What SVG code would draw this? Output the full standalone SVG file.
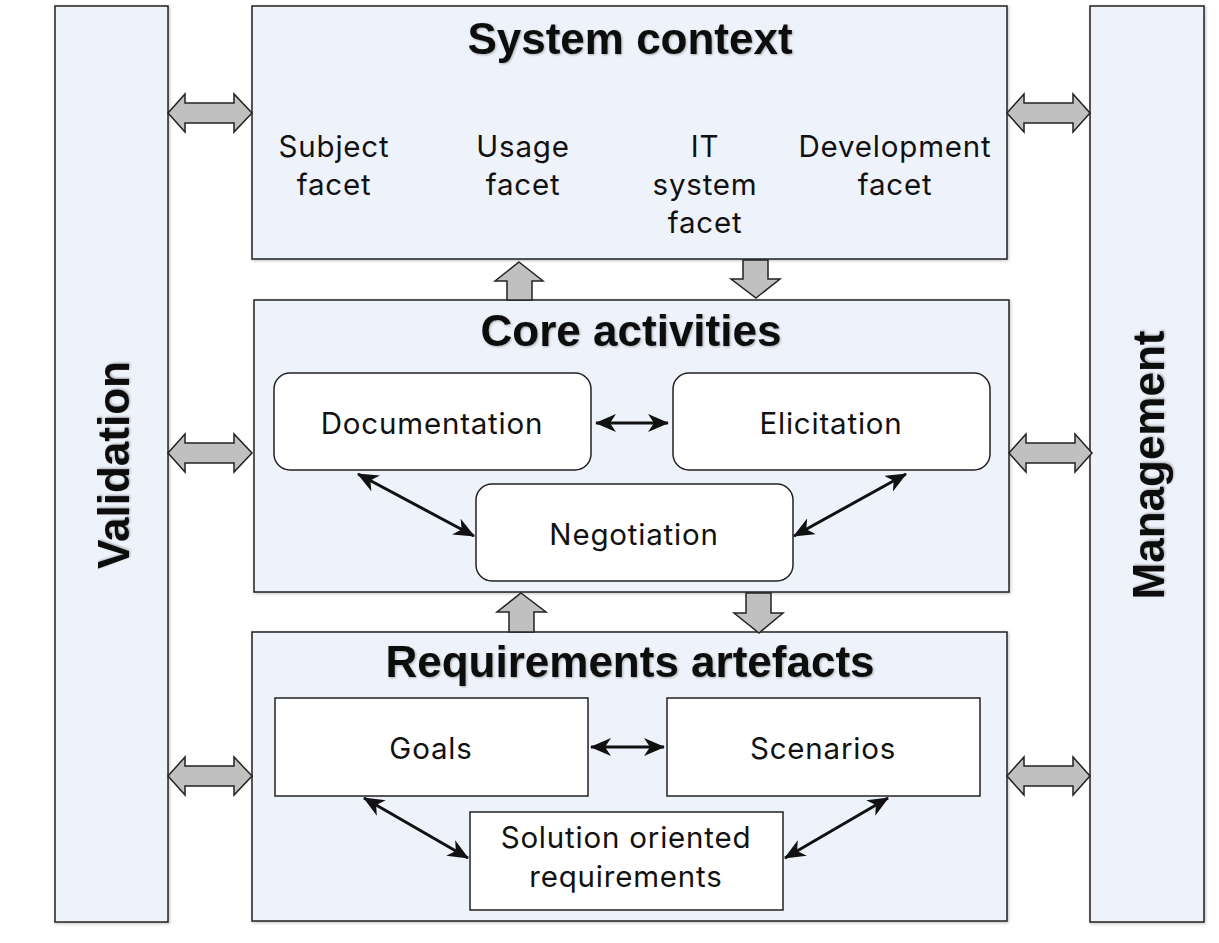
<svg xmlns="http://www.w3.org/2000/svg" width="1219" height="943" viewBox="0 0 1219 943">
<style>
.panel{fill:#eef2fa;stroke:#222;stroke-width:1.5}
.inner{fill:#fff;stroke:#222;stroke-width:1.5}
.block{fill:#c0c0c0;stroke:#222;stroke-width:1.5;stroke-linejoin:miter}
.title{font-family:"Liberation Sans",Arial,sans-serif;font-weight:bold;font-size:44px;fill:#111;text-anchor:middle}
.lbl{font-family:Inter,"DejaVu Sans",sans-serif;font-size:29.5px;letter-spacing:0.8px;fill:#111;text-anchor:middle}
.conn{stroke:#111;stroke-width:3;fill:none;marker-start:url(#ah);marker-end:url(#ah)}
</style>
<defs>
<filter id="sh" x="-5%" y="-5%" width="110%" height="110%">
<feDropShadow dx="1" dy="1" stdDeviation="1.5" flood-color="#000" flood-opacity="0.25"/>
</filter>
<filter id="ts" x="-5%" y="-20%" width="110%" height="140%">
<feDropShadow dx="1" dy="1" stdDeviation="1.2" flood-color="#000" flood-opacity="0.3"/>
</filter>
<marker id="ah" viewBox="0 0 21 18" refX="20" refY="9" markerWidth="21" markerHeight="18" markerUnits="userSpaceOnUse" orient="auto-start-reverse">
<path d="M0,0 L21,9 L0,18 L6,9 Z" fill="#111"/>
</marker>
</defs>
<rect width="1219" height="943" fill="#fff"/>

<g id="validation">
<rect class="panel" x="55" y="6" width="113" height="916" filter="url(#sh)"/>
<text class="title" transform="translate(129,465) rotate(-90)" filter="url(#ts)">Validation</text>
</g>

<g id="management">
<rect class="panel" x="1090" y="6" width="114" height="916" filter="url(#sh)"/>
<text class="title" transform="translate(1164,465) rotate(-90)" filter="url(#ts)">Management</text>
</g>

<g id="system-context">
<rect class="panel" x="252" y="6" width="755" height="253" filter="url(#sh)"/>
<text class="title" x="630" y="54" filter="url(#ts)">System context</text>
<text class="lbl" x="334" y="157">Subject</text>
<text class="lbl" x="334" y="195">facet</text>
<text class="lbl" x="523" y="157">Usage</text>
<text class="lbl" x="523" y="195">facet</text>
<text class="lbl" x="705" y="157">IT</text>
<text class="lbl" x="705" y="195">system</text>
<text class="lbl" x="705" y="233">facet</text>
<text class="lbl" x="895" y="157">Development</text>
<text class="lbl" x="895" y="195">facet</text>
</g>

<g id="core-activities">
<rect class="panel" x="254" y="300" width="755" height="292" filter="url(#sh)"/>
<text class="title" x="631" y="346" filter="url(#ts)">Core activities</text>
</g>
<g id="documentation">
<rect class="inner" x="274" y="373" width="317" height="97" rx="16"/>
<text class="lbl" x="432" y="434">Documentation</text>
</g>
<g id="elicitation">
<rect class="inner" x="673" y="373" width="317" height="97" rx="16"/>
<text class="lbl" x="831" y="434">Elicitation</text>
</g>
<g id="negotiation">
<rect class="inner" x="476" y="484" width="317" height="97" rx="16"/>
<text class="lbl" x="634" y="545">Negotiation</text>
</g>

<g id="requirements-artefacts">
<rect class="panel" x="252" y="632" width="755" height="289" filter="url(#sh)"/>
<text class="title" x="630" y="677" filter="url(#ts)">Requirements artefacts</text>
</g>
<g id="goals">
<rect class="inner" x="275" y="698" width="313" height="98"/>
<text class="lbl" x="431" y="759">Goals</text>
</g>
<g id="scenarios">
<rect class="inner" x="667" y="698" width="313" height="98"/>
<text class="lbl" x="823" y="759">Scenarios</text>
</g>
<g id="solution">
<rect class="inner" x="470" y="812" width="313" height="98"/>
<text class="lbl" x="626" y="848">Solution oriented</text>
<text class="lbl" x="626" y="887">requirements</text>
</g>

<g id="connectors">
<path class="block" d="M168,113 L185,94 L185,103 L234,103 L234,94 L252,113 L234,132 L234,123 L185,123 L185,132 Z"/>
<path class="block" d="M168,453 L185,434 L185,443 L234,443 L234,434 L252,453 L234,472 L234,463 L185,463 L185,472 Z"/>
<path class="block" d="M168,776 L185,757 L185,766 L234,766 L234,757 L252,776 L234,795 L234,786 L185,786 L185,795 Z"/>
<path class="block" d="M1007,113 L1024,94 L1024,103 L1073,103 L1073,94 L1090,113 L1073,132 L1073,123 L1024,123 L1024,132 Z"/>
<path class="block" d="M1009,453 L1026,434 L1026,443 L1075,443 L1075,434 L1092,453 L1075,472 L1075,463 L1026,463 L1026,472 Z"/>
<path class="block" d="M1007,776 L1024,757 L1024,766 L1073,766 L1073,757 L1090,776 L1073,795 L1073,786 L1024,786 L1024,795 Z"/>
<path class="block" d="M519,262 L543,281 L532,281 L532,300 L507,300 L507,281 L495,281 Z"/>
<path class="block" d="M756,298 L780,279 L768,279 L768,260 L743,260 L743,279 L731,279 Z"/>
<path class="block" d="M521,593 L546,612 L534,612 L534,632 L509,632 L509,612 L497,612 Z"/>
<path class="block" d="M759,633 L783,613 L771,613 L771,593 L746,593 L746,613 L734,613 Z"/>
<line class="conn" x1="596" y1="423" x2="668" y2="423"/>
<line class="conn" x1="358" y1="474" x2="474" y2="536"/>
<line class="conn" x1="906" y1="474" x2="794" y2="536"/>
<line class="conn" x1="591" y1="747" x2="664" y2="747"/>
<line class="conn" x1="364" y1="798" x2="468" y2="858"/>
<line class="conn" x1="888" y1="798" x2="785" y2="858"/>
</g>
</svg>
